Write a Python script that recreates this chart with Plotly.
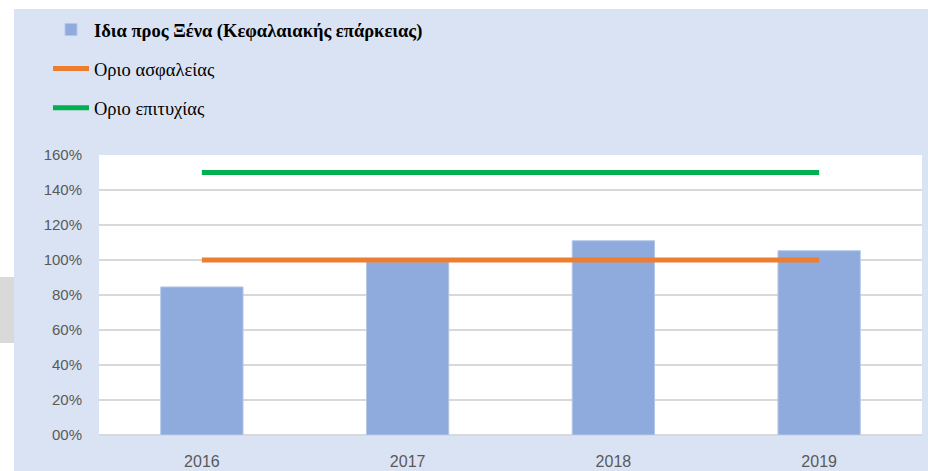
import plotly.graph_objects as go

years = ["2016", "2017", "2018", "2019"]
ratio = [84.6, 99.0, 111.0, 105.3]
safety = [100, 100, 100, 100]
success = [150, 150, 150, 150]
ytick_vals = [0, 20, 40, 60, 80, 100, 120, 140, 160]
ytick_text = ["00%", "20%", "40%", "60%", "80%", "100%", "120%", "140%", "160%"]

name_bar = "<b>Ιδια προς Ξένα (Κεφαλαιακής επάρκειας)</b>"
name_safe = "Οριο ασφαλείας"
name_succ = "Οριο επιτυχίας"

L, R, T, B = 99, 6, 155, 36
PW, PH = 928 - L - R, 471 - T - B

def px_x(p):
    return (p - L) / PW

def px_y(p):
    return (471 - B - p) / PH

fig = go.Figure()
fig.add_trace(go.Bar(x=years, y=ratio, name=name_bar, width=0.4,
                     marker=dict(color="#8FAADC", line=dict(color="#B4C7E7", width=1)),
                     legendgroup="a"))
fig.add_trace(go.Scatter(x=years, y=safety, name=name_safe, mode="lines",
                         line=dict(color="#ED7D31", width=5), legendgroup="b"))
fig.add_trace(go.Scatter(x=years, y=success, name=name_succ, mode="lines",
                         line=dict(color="#00B050", width=5), legendgroup="c"))

fig.update_layout(
    width=928, height=471,
    margin=dict(l=L, r=R, t=T, b=B, autoexpand=False),
    paper_bgcolor="#DAE3F3",
    plot_bgcolor="white",
    showlegend=True,
    legend=dict(x=px_x(48), xanchor="left", y=px_y(11), yanchor="top",
                bgcolor="rgba(0,0,0,0)", tracegroupgap=12,
                font=dict(family="Liberation Serif", size=18.5, color="black"),
                traceorder="grouped", itemwidth=36),
    shapes=[
        dict(type="rect", xref="paper", yref="paper", x0=px_x(0), x1=px_x(14),
             y0=px_y(471), y1=px_y(0), fillcolor="white", line=dict(width=0),
             layer="below"),
        dict(type="rect", xref="paper", yref="paper", x0=px_x(0), x1=px_x(928),
             y0=px_y(9), y1=px_y(0), fillcolor="white", line=dict(width=0),
             layer="below"),
        dict(type="rect", xref="paper", yref="paper", x0=px_x(0), x1=px_x(14),
             y0=px_y(343), y1=px_y(277), fillcolor="#D9D9D9", line=dict(width=0),
             layer="below"),
    ],
    xaxis=dict(type="category", showgrid=False, showline=False, ticks="",
               tickfont=dict(family="Liberation Sans", size=16, color="#595959"),
               ticklabelstandoff=15),
    yaxis=dict(range=[0, 160], tickvals=ytick_vals, ticktext=ytick_text,
               showgrid=True, gridcolor="#D9D9D9", gridwidth=1.5,
               zeroline=True, zerolinecolor="#D9D9D9", zerolinewidth=1.5,
               tickfont=dict(family="Liberation Sans", size=15, color="#595959"),
               ticklabelstandoff=16),
    bargap=0.6,
)

fig.write_html("out.html", config={"displayModeBar": False},
               post_script="document.body.style.margin='0';")
